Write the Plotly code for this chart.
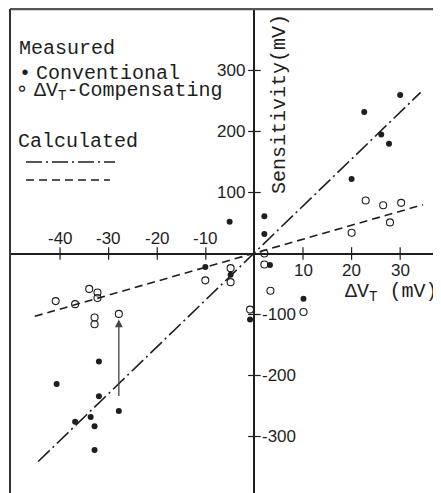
import plotly.graph_objects as go

# ---- data ----
conv_x = [-40.7, -36.9, -33.7, -32.9, -32.9, -32.0, -32.0, -27.9, -10.1, -5.1, -4.9, -0.9,
          2.05, 2.05, 3.2, 10.1, 20.0, 22.6, 26.1, 27.7, 30.0]
conv_y = [-214, -276, -268, -283, -322, -177, -234, -258, -22, 52, -35, -108,
          61, 32, -19, -74, 122, 232, 195, 180, 260]

comp_x = [-40.9, -36.9, -34.0, -32.3, -32.3, -32.9, -32.9, -27.9, -10.1, -4.9, -4.9, -0.9,
          2.05, 2.05, 3.3, 10.1, 20.0, 22.9, 26.5, 27.9, 30.2]
comp_y = [-78, -83, -58, -64, -73, -105, -116, -99, -44, -24, -47, -92,
          0, -18, -61, -96, 34, 87, 79, 51, 83]

calc_conv_x = [-44.5, 34.2]
calc_conv_y = [-341, 264]
calc_comp_x = [-45.2, 34.7]
calc_comp_y = [-103, 80]

arrow_x = -27.9
arrow_from_y = -250
arrow_to_y = -108

x_ticks_neg = [-40, -30, -20, -10]
x_ticks_pos = [10, 20, 30]
y_ticks_pos = [100, 200, 300]
y_ticks_neg = [-100, -200, -300]

INK = "#1e1e1e"
MONO = "Liberation Mono, Courier New, monospace"
SANS = "Liberation Sans, Arial, sans-serif"

# page offset: the page body adds 8px, plot area spans page px 10..441 x 9..493
PX0, PW = 10, 431
PY0, PH = 9, 484


def px(x):
    return (x - PX0) / PW


def py(y):
    return 1 - (y - PY0) / PH


fig = go.Figure()

# calculated lines
fig.add_trace(go.Scatter(x=calc_conv_x, y=calc_conv_y, mode="lines",
                         line=dict(color=INK, width=1.6, dash="16px,4px,2px,4px"),
                         hoverinfo="skip", showlegend=False))
fig.add_trace(go.Scatter(x=calc_comp_x, y=calc_comp_y, mode="lines",
                         line=dict(color=INK, width=1.6, dash="8px,5px"),
                         hoverinfo="skip", showlegend=False))

# measured points
fig.add_trace(go.Scatter(x=conv_x, y=conv_y, mode="markers",
                         marker=dict(symbol="circle", size=6, color=INK),
                         showlegend=False))
fig.add_trace(go.Scatter(x=comp_x, y=comp_y, mode="markers",
                         marker=dict(symbol="circle-open", size=7, color=INK, line=dict(width=1.1)),
                         showlegend=False))

# tick marks crossing the axes
fig.add_trace(go.Scatter(x=x_ticks_neg + x_ticks_pos, y=[0] * 7, mode="markers",
                         marker=dict(symbol="line-ns", size=9, line=dict(color=INK, width=1.2)),
                         hoverinfo="skip", showlegend=False))
fig.add_trace(go.Scatter(x=[0] * 6, y=y_ticks_pos + y_ticks_neg, mode="markers",
                         marker=dict(symbol="line-ew", size=9, line=dict(color=INK, width=1.2)),
                         hoverinfo="skip", showlegend=False))

ann = []
tick_font = dict(family=SANS, size=17, color=INK)
for t in x_ticks_neg:
    ann.append(dict(x=t, y=0, xref="x", yref="y", text=str(t), showarrow=False,
                    yanchor="bottom", yshift=4, font=tick_font))
for t in x_ticks_pos:
    ann.append(dict(x=t, y=0, xref="x", yref="y", text=str(t), showarrow=False,
                    yanchor="top", yshift=-5, font=tick_font))
for t in y_ticks_pos:
    ann.append(dict(x=0, y=t, xref="x", yref="y", text=str(t), showarrow=False,
                    xanchor="right", xshift=-7, font=tick_font))
for t in y_ticks_neg:
    ann.append(dict(x=0, y=t, xref="x", yref="y", text=str(t), showarrow=False,
                    xanchor="left", xshift=6, font=tick_font))

# arrow
ann.append(dict(x=arrow_x, y=arrow_to_y, ax=arrow_x, ay=arrow_from_y, xref="x", yref="y",
                axref="x", ayref="y", showarrow=True, arrowhead=2, arrowsize=1.2,
                arrowwidth=1.3, arrowcolor="#444", text=" "))

# axis titles
lab_font = dict(family=MONO, size=20, color=INK)
ann.append(dict(x=px(279), y=py(104), xref="paper", yref="paper",
                xanchor="center", yanchor="middle",
                text="Sensitivity(mV)", textangle=-90, showarrow=False, font=lab_font))
ann.append(dict(x=px(343), y=py(292), xref="paper", yref="paper",
                text="ΔV<sub>T</sub> (mV)", showarrow=False, xanchor="left", font=lab_font))


# legend text
def leg(x, y, text, anchor="left"):
    ann.append(dict(x=px(x), y=py(y), xref="paper", yref="paper",
                    text=text, showarrow=False, xanchor=anchor, yanchor="middle", font=lab_font))


leg(17, 49, "Measured")
leg(25, 73, "•", "center")
leg(34, 73, "Conventional")
leg(22, 89, "∘", "center")
leg(32, 91, "ΔV<sub>T</sub>-Compensating")
leg(16, 142, "Calculated")

shapes = [
    # frame
    dict(type="line", xref="paper", yref="paper", x0=0, x1=1, y0=1, y1=1,
         line=dict(color="#555", width=2.5)),
    dict(type="line", xref="paper", yref="paper", x0=0, x1=0, y0=0, y1=1,
         line=dict(color="#333", width=2)),
    # legend samples
    dict(type="line", xref="paper", yref="paper", x0=px(26), x1=px(115),
         y0=py(162), y1=py(162),
         line=dict(color=INK, width=1.6, dash="16px,4px,2px,4px")),
    dict(type="line", xref="paper", yref="paper", x0=px(26), x1=px(110),
         y0=py(180), y1=py(180),
         line=dict(color=INK, width=1.6, dash="8px,5px")),
]

fig.update_layout(
    width=433, height=485,
    margin=dict(l=2, r=0, t=1, b=0),
    paper_bgcolor="white", plot_bgcolor="white",
    xaxis=dict(range=[-50.3, 38.4], showgrid=False, showticklabels=False, ticks="",
               zeroline=True, zerolinecolor=INK, zerolinewidth=1.5),
    yaxis=dict(range=[-392.6, 400.8], showgrid=False, showticklabels=False, ticks="",
               zeroline=True, zerolinecolor=INK, zerolinewidth=1.5),
    annotations=ann, shapes=shapes,
)

fig.write_html("out.html")
